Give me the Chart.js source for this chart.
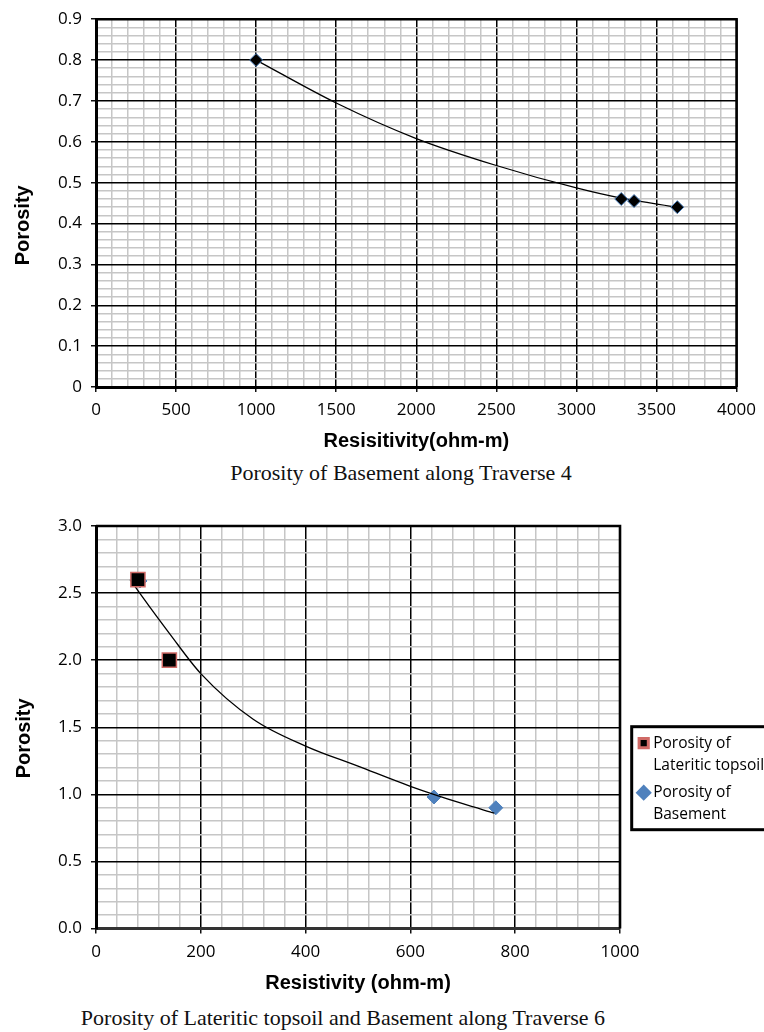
<!DOCTYPE html>
<html>
<head>
<meta charset="utf-8">
<script src="https://cdn.jsdelivr.net/npm/chart.js@4.4.1/dist/chart.umd.min.js"></script>
<style>
  html, body { margin: 0; padding: 0; background: #fff; width: 764px; height: 1032px; overflow: hidden; }
  canvas { position: absolute; left: 0; }
  #traverse4 { top: 0; }
  #traverse6 { top: 480px; }
  .caption {
    position: absolute; transform: translateX(-50%); white-space: nowrap;
    font-family: "Liberation Serif", "Times New Roman", serif; font-size: 22px; line-height: 26px; color: #111;
  }
</style>
</head>
<body>
<canvas id="traverse4" width="764" height="460"></canvas>
<div class="caption" style="left:401px; top:460px;">Porosity of Basement along Traverse 4</div>
<canvas id="traverse6" width="764" height="520"></canvas>
<div class="caption" style="left:343px; top:1005px;">Porosity of Lateritic topsoil and Basement along Traverse 6</div>

<script>
// ---- Traverse 4: basement porosity vs resistivity ----
const t4Resistivity = [1000, 3280, 3360, 3630];
const t4Porosity = [0.80, 0.46, 0.455, 0.44];
// trend curve through the basement points
const t4TrendResistivity = [1000, 1500, 2000, 2500, 3000, 3280, 3630];
const t4TrendPorosity = [0.80, 0.695, 0.608, 0.542, 0.487, 0.462, 0.44];
// axis ranges and tick steps (minor / labelled)
const t4XRange = [0, 4000];
const t4XSteps = [100, 500];
const t4YRange = [0, 0.9];
const t4YSteps = [0.02, 0.1];

// ---- Traverse 6: lateritic topsoil and basement ----
const t6LateriticResistivity = [80, 140];
const t6LateriticPorosity = [2.6, 2.0];
const t6BasementResistivity = [84, 645, 763];
const t6BasementPorosity = [2.59, 0.98, 0.90];
const t6TrendResistivity = [65, 100, 140, 200, 300, 400, 500, 600, 700, 760];
const t6TrendPorosity = [2.60, 2.41, 2.20, 1.90, 1.56, 1.36, 1.21, 1.06, 0.93, 0.86];
const t6XRange = [0, 1000];
const t6XSteps = [40, 200];
const t6YRange = [0, 3.0];
const t6YSteps = [0.1, 0.5];
const t6LegendLines = [["Porosity of", "Lateritic topsoil"], ["Porosity of", "Basement"]];

const toPoints = (xs, ys) => xs.map((x, i) => ({ x, y: ys[i] }));
const onStep = (v, step) => Math.abs(v / step - Math.round(v / step)) < 1e-6;

const TICK_FONT = { family: '"Open Sans", "Liberation Sans", sans-serif', size: 17 };
const TITLE_FONT = { family: '"Liberation Sans", Arial, sans-serif', size: 20, weight: 'bold' };

function gridAxis(range, steps, fmt, cfg) {
  const [minor, major] = steps;
  return {
    type: 'linear',
    min: range[0],
    max: range[1],
    afterFit: cfg.fit,
    border: { display: true, color: cfg.borderColor || '#000', width: 3 },
    grid: {
      color: c => onStep(c.tick.value, major) ? '#000' : '#c6c6c6',
      lineWidth: c => onStep(c.tick.value, major) ? 1.5 : 1.5,
      tickColor: c => onStep(c.tick.value, major) ? '#111' : 'rgba(0,0,0,0)',
      tickLength: 5
    },
    ticks: {
      stepSize: minor,
      autoSkip: false,
      maxRotation: 0,
      padding: cfg.tickPad,
      color: '#000',
      font: TICK_FONT,
      callback: v => onStep(v, major) ? fmt(v) : ''
    },
    title: {
      display: true,
      text: cfg.title,
      color: '#000',
      font: TITLE_FONT,
      padding: cfg.titlePad
    }
  };
}

// top and right edges of the plot frame
const plotFrame = {
  id: 'plotFrame',
  beforeDatasetsDraw(chart) {
    const { ctx, chartArea: a } = chart;
    ctx.save();
    ctx.strokeStyle = '#000';
    ctx.lineWidth = 2.6;
    ctx.beginPath();
    ctx.moveTo(a.left, a.top);
    ctx.lineTo(a.right, a.top);
    ctx.lineTo(a.right, a.bottom);
    ctx.stroke();
    ctx.restore();
  }
};

// boxed legend beside the plot, with wrapped labels
const sideLegend = {
  id: 'sideLegend',
  afterDraw(chart, args, opts) {
    if (!opts.items) return;
    const { ctx, chartArea } = chart;
    const x0 = chartArea.right + opts.gap;
    const y0 = chartArea.top + opts.offsetTop;
    ctx.save();
    ctx.fillStyle = '#fff';
    ctx.fillRect(x0, y0, opts.width, opts.height);
    ctx.lineWidth = 3;
    ctx.strokeStyle = '#000';
    ctx.strokeRect(x0, y0, opts.width, opts.height);
    ctx.font = '15.5px "Open Sans", sans-serif';
    ctx.textBaseline = 'middle';
    ctx.textAlign = 'left';
    opts.items.forEach((item, i) => {
      const ds = chart.data.datasets[item.dataset];
      const cy = y0 + 16.5 + i * 49.5;
      ctx.fillStyle = ds.backgroundColor;
      ctx.strokeStyle = ds.borderColor;
      Chart.helpers.drawPoint(ctx, {
        pointStyle: ds.pointStyle, radius: item.radius, rotation: 0, borderWidth: ds.borderWidth
      }, x0 + 12, cy);
      ctx.fillStyle = '#000';
      item.lines.forEach((t, j) => ctx.fillText(t, x0 + 21.5, cy + j * 22));
    });
    ctx.restore();
  }
};

const baseOptions = {
  responsive: false,
  animation: false,
  devicePixelRatio: 1,
  events: []
};

// Traverse 4
new Chart(document.getElementById('traverse4'), {
  type: 'scatter',
  data: {
    datasets: [
      {
        label: 'Porosity of Basement',
        data: toPoints(t4Resistivity, t4Porosity),
        pointStyle: 'rectRot',
        pointRadius: 6.5,
        backgroundColor: '#000',
        borderColor: '#4a7ebb',
        borderWidth: 1,
        order: 0
      },
      {
        label: 'Trend',
        data: toPoints(t4TrendResistivity, t4TrendPorosity),
        showLine: true,
        pointRadius: 0,
        borderColor: '#000',
        borderWidth: 1.3,
        cubicInterpolationMode: 'monotone',
        order: 1
      }
    ]
  },
  options: {
    ...baseOptions,
    layout: { padding: { top: 17, right: 25, left: 0, bottom: 0 } },
    plugins: { legend: { display: false }, tooltip: { enabled: false } },
    scales: {
      x: gridAxis(t4XRange, t4XSteps, v => String(Math.round(v)), {
        fit: s => { s.height = 73; }, tickPad: 8,
        title: 'Resisitivity(ohm-m)', titlePad: { top: 0, bottom: 7 }
      }),
      y: gridAxis(t4YRange, t4YSteps, v => (Math.abs(v) < 1e-9 ? '0' : v.toFixed(1)), {
        fit: s => { s.width = 96; }, tickPad: 9,
        title: 'Porosity' + '\u00a0'.repeat(8), titlePad: { top: 11, bottom: 0 }
      })
    }
  },
  plugins: [plotFrame]
});

// Traverse 6
new Chart(document.getElementById('traverse6'), {
  type: 'scatter',
  data: {
    datasets: [
      {
        label: 'Porosity of Lateritic topsoil',
        data: toPoints(t6LateriticResistivity, t6LateriticPorosity),
        pointStyle: 'rect',
        pointRadius: 10,
        backgroundColor: '#000',
        borderColor: '#d06a66',
        borderWidth: 1.5,
        order: 0
      },
      {
        label: 'Porosity of Basement',
        data: toPoints(t6BasementResistivity, t6BasementPorosity),
        pointStyle: 'rectRot',
        pointRadius: 7,
        backgroundColor: '#4f81bd',
        borderColor: '#4f81bd',
        borderWidth: 1,
        order: 2
      },
      {
        label: 'Trend',
        data: toPoints(t6TrendResistivity, t6TrendPorosity),
        showLine: true,
        pointRadius: 0,
        borderColor: '#000',
        borderWidth: 1.3,
        cubicInterpolationMode: 'monotone',
        order: 1
      }
    ]
  },
  options: {
    ...baseOptions,
    layout: { padding: { top: 46, right: 144, left: 0, bottom: 0 } },
    plugins: {
      legend: { display: false },
      tooltip: { enabled: false },
      sideLegend: {
        gap: 11.7, offsetTop: 200.7, width: 140, height: 103,
        items: [
          { dataset: 0, radius: 6.5, lines: t6LegendLines[0] },
          { dataset: 1, radius: 6, lines: t6LegendLines[1] }
        ]
      }
    },
    scales: {
      x: gridAxis(t6XRange, t6XSteps, v => String(Math.round(v)), {
        fit: s => { s.height = 71.5; }, tickPad: 8, borderColor: '#333',
        title: 'Resistivity (ohm-m)', titlePad: { top: 0, bottom: 5 }
      }),
      y: gridAxis(t6YRange, t6YSteps, v => v.toFixed(1), {
        fit: s => { s.width = 96; }, tickPad: 9,
        title: 'Porosity' + '\u00a0'.repeat(4), titlePad: { top: 12, bottom: 0 }
      })
    }
  },
  plugins: [plotFrame, sideLegend]
});
</script>
</body>
</html>
